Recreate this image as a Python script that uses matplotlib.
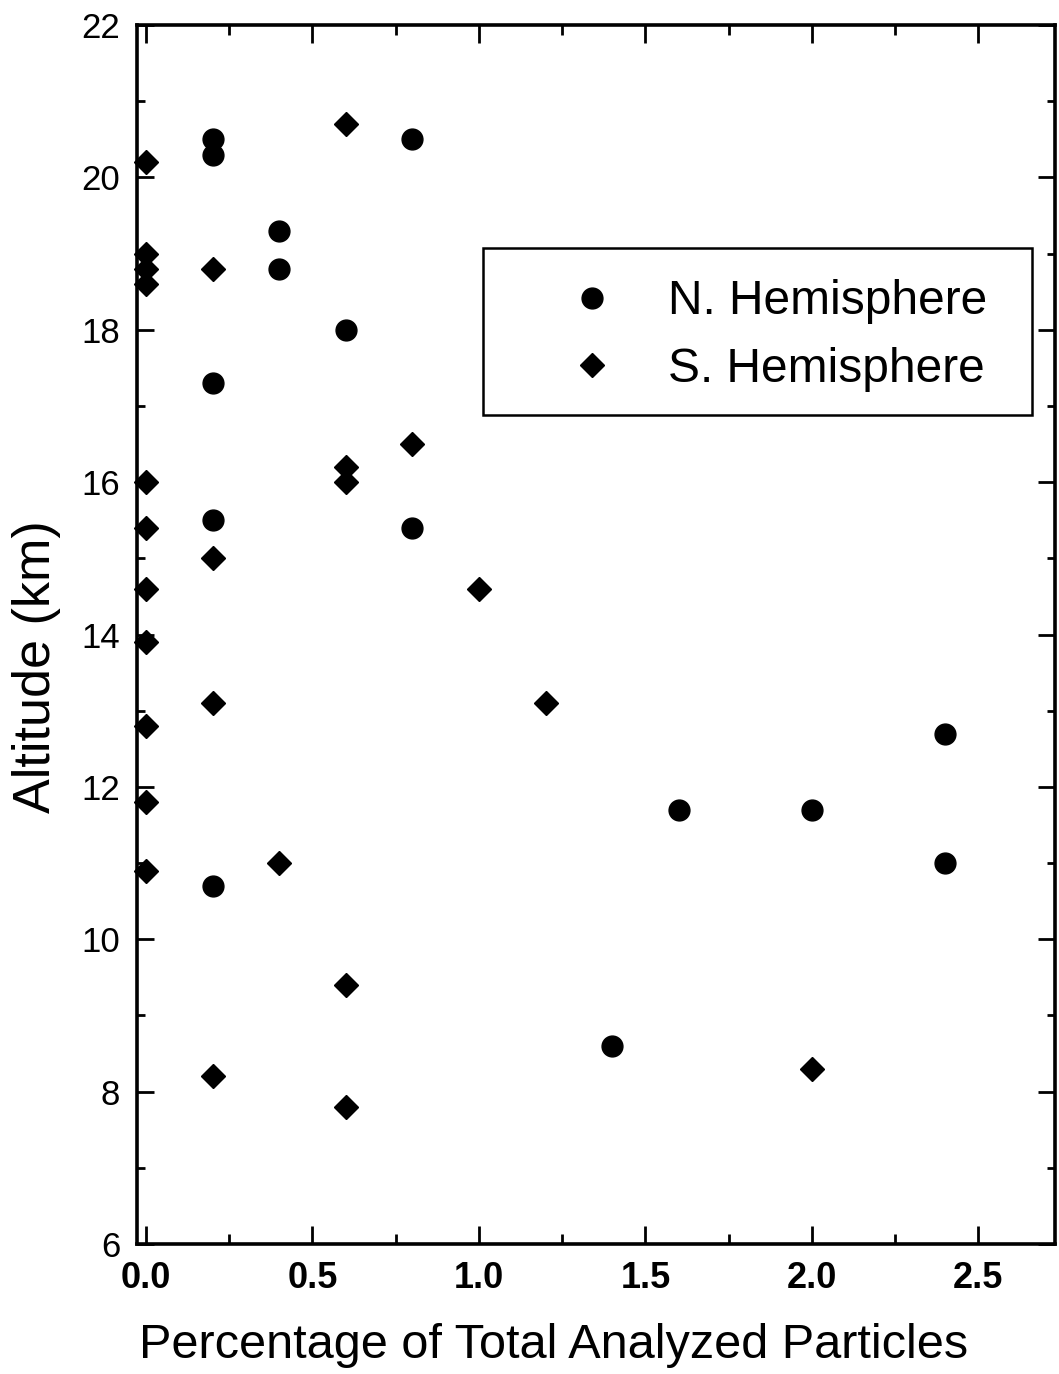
import matplotlib
matplotlib.use("Agg")
import matplotlib.pyplot as plt
from matplotlib.ticker import MultipleLocator
from matplotlib.patches import Rectangle

# N. Hemisphere (circles)
n_pct = [0.2, 0.2, 0.8, 0.4, 0.4, 0.6, 0.2, 0.2, 0.8, 0.2, 1.4, 1.6, 2.0, 2.4, 2.4]
n_alt = [20.5, 20.3, 20.5, 19.3, 18.8, 18.0, 17.3, 15.5, 15.4, 10.7, 8.6, 11.7, 11.7, 12.7, 11.0]

# S. Hemisphere (diamonds)
s_pct = [0.0, 0.6, 0.0, 0.0, 0.0, 0.2, 0.8, 0.6, 0.6, 0.0, 0.0, 0.2, 0.0, 1.0,
         0.0, 0.2, 1.2, 0.0, 0.0, 0.4, 0.0, 0.6, 0.2, 0.6, 2.0]
s_alt = [20.2, 20.7, 19.0, 18.8, 18.6, 18.8, 16.5, 16.2, 16.0, 16.0, 15.4, 15.0, 14.6, 14.6,
         13.9, 13.1, 13.1, 12.8, 11.8, 11.0, 10.9, 9.4, 8.2, 7.8, 8.3]

labels = ["N. Hemisphere", "S. Hemisphere"]
x_ticks = [0.0, 0.5, 1.0, 1.5, 2.0, 2.5]
y_ticks = [6, 8, 10, 12, 14, 16, 18, 20, 22]

W, H = 1059, 1374
fig = plt.figure(figsize=(W / 100, H / 100), dpi=100)
plt.rcParams['font.family'] = ['Liberation Sans', 'DejaVu Sans']

left, right, top, bottom = 137, 1055, 25, 1244
ax = fig.add_axes([left / W, 1 - bottom / H, (right - left) / W, (bottom - top) / H])

ax.plot(n_pct, n_alt, linestyle='none', marker='o', markersize=15,
        color='black', label=labels[0], clip_on=False)
ax.plot(s_pct, s_alt, linestyle='none', marker='D', markersize=12.5,
        color='black', label=labels[1], clip_on=False)

ax.set_xlim(-0.027, 2.73)
ax.set_ylim(6, 22)
ax.set_xticks(x_ticks)
ax.set_yticks(y_ticks)
ax.xaxis.set_minor_locator(MultipleLocator(0.25))
ax.yaxis.set_minor_locator(MultipleLocator(1))

for s in ax.spines.values():
    s.set_linewidth(2.6)

ax.tick_params(axis='both', which='both', direction='in', top=True, right=True, width=2.0)
ax.tick_params(axis='x', which='major', length=13, pad=12)
ax.tick_params(axis='x', which='minor', length=7.5)
ax.tick_params(axis='y', which='major', length=12, pad=12)
ax.tick_params(axis='y', which='minor', length=5.5)

ax.set_xticklabels([f"{v:.1f}" for v in x_ticks], fontweight='bold', fontsize=26)
ax.set_yticklabels([str(v) for v in y_ticks], fontsize=25)

ax.set_xlabel("Percentage of Total Analyzed Particles", fontsize=35)
ax.set_ylabel("Altitude (km)", fontsize=37.5)
ax.xaxis.set_label_coords(0.454, -0.0648)
ax.yaxis.set_label_coords(-0.083, 0.474)

# legend frame
fig.patches.append(Rectangle((483 / W, 1 - 415 / H), (1032 - 483) / W, (415 - 248) / H,
                             transform=fig.transFigure, fill=False,
                             edgecolor='black', linewidth=1.8, zorder=5))
fs = 34.5
fs_px = fs * 100 / 72
hl = 1.5
leg = ax.legend(loc='upper left',
                bbox_to_anchor=((592 - hl * fs_px / 2) / W, 1 - 279.5 / H),
                bbox_transform=fig.transFigure, frameon=False, fontsize=fs,
                handlelength=hl, handletextpad=0.84, labelspacing=0.46,
                borderpad=0, borderaxespad=0, numpoints=1)

fig.savefig("out.png", dpi=100)
